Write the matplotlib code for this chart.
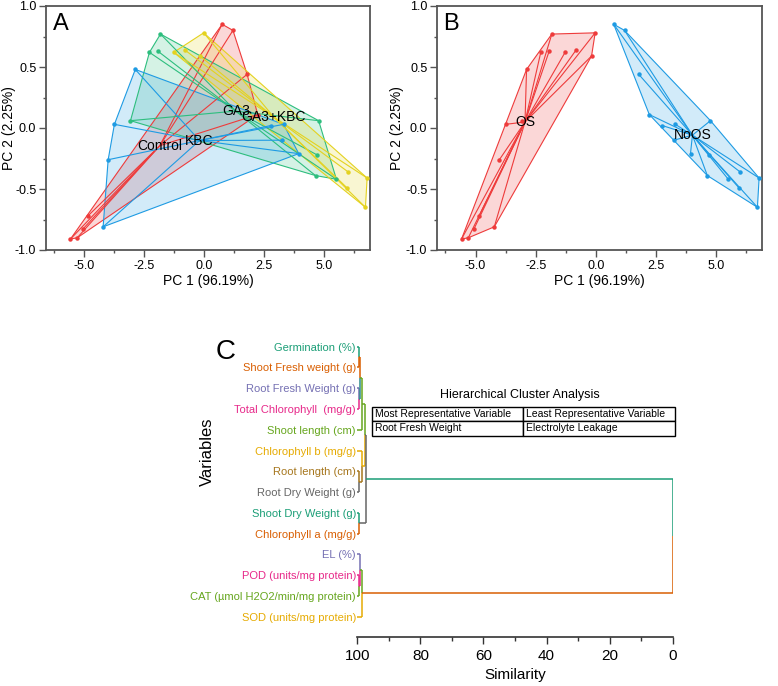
import numpy as np
import matplotlib
matplotlib.use("Agg")
import matplotlib.pyplot as plt
from matplotlib.patches import Polygon
from matplotlib.ticker import MultipleLocator, FormatStrFormatter

plt.rcParams['font.family'] = ['Liberation Sans', 'DejaVu Sans']

# ---------------- PCA data ----------------
groups = ["Control", "KBC", "GA3", "GA3+KBC"]
control_x = [0.74, 1.19, 1.78, 2.22, -4.85, -5.07, -5.58, -5.30]
control_y = [0.85, 0.80, 0.44, 0.11, -0.72, -0.83, -0.91, -0.90]
kbc_x = [3.30, 3.24, 3.93, 2.76, -2.88, -3.75, -4.01, -4.22]
kbc_y = [0.03, -0.10, -0.21, 0.02, 0.48, 0.03, -0.26, -0.81]
ga3_x = [4.76, 4.69, 4.63, 5.50, -1.83, -2.29, -1.94, -3.08]
ga3_y = [0.06, -0.22, -0.39, -0.42, 0.77, 0.62, 0.63, 0.06]
ga3kbc_x = [5.99, 5.94, 6.78, 6.71, -0.03, -0.82, -1.28, -0.18]
ga3kbc_y = [-0.36, -0.49, -0.41, -0.65, 0.78, 0.64, 0.62, 0.59]
stress = ["NoOS", "NoOS", "NoOS", "NoOS", "OS", "OS", "OS", "OS"]
stress_groups = ["OS", "NoOS"]

group_colors = {"Control": "#EE3B3B", "KBC": "#1E9BE3", "GA3": "#2DBE7E", "GA3+KBC": "#E4D21F"}
stress_colors = {"OS": "#EE3B3B", "NoOS": "#1E9BE3"}

# ---------------- Dendrogram data ----------------
variables = ["Germination (%)", "Shoot Fresh weight (g)", "Root Fresh Weight (g)",
             "Total Chlorophyll  (mg/g)", "Shoot length (cm)", "Chlorophyll b (mg/g)",
             "Root length (cm)", "Root Dry Weight (g)", "Shoot Dry Weight (g)",
             "Chlorophyll a (mg/g)", "EL (%)", "POD (units/mg protein)",
             "CAT (\u00b5mol H2O2/min/mg protein)", "SOD (units/mg protein)"]
merge_left = [0, 2, 14, 16, 6, 5, 17, 8, 20, 11, 10, 24, 22]
merge_right = [1, 3, 15, 4, 7, 18, 19, 9, 21, 12, 23, 13, 25]
merge_sim = [99.4, 99.6, 99.1, 98.4, 99.5, 98.6, 97.6, 99.6, 97.2, 99.5, 99.2, 98.6, 0.0]

dark2 = ["#1B9E77", "#D95F02", "#7570B3", "#E7298A", "#66A61E", "#E6AB02", "#A6761D", "#666666"]
leaf_colors = [dark2[i % 8] for i in range(len(variables))]
node_colors = ["#D95F02", "#2E8B8B", "#66A61E", "#66A61E", "#A6761D", "#E6AB02",
               "#666666", "#666666", "#1B9E77", "#E7298A", "#66A61E", "#D95F02", "#1B9E77"]

# ---------------- helpers ----------------
def convex_hull(pts):
    pts = sorted(set(map(tuple, pts)))
    if len(pts) < 3:
        return pts
    def cross(o, a, b):
        return (a[0]-o[0])*(b[1]-o[1]) - (a[1]-o[1])*(b[0]-o[0])
    lower, upper = [], []
    for p in pts:
        while len(lower) >= 2 and cross(lower[-2], lower[-1], p) <= 0:
            lower.pop()
        lower.append(p)
    for p in reversed(pts):
        while len(upper) >= 2 and cross(upper[-2], upper[-1], p) <= 0:
            upper.pop()
        upper.append(p)
    return lower[:-1] + upper[:-1]

def spider(ax, xs, ys, color, label):
    xs = np.asarray(xs); ys = np.asarray(ys)
    cx, cy = xs.mean(), ys.mean()
    hull = convex_hull(np.column_stack([xs, ys]))
    ax.add_patch(Polygon(hull, closed=True, facecolor=color, alpha=0.2, edgecolor='none', zorder=1))
    ax.add_patch(Polygon(hull, closed=True, facecolor='none', edgecolor=color, lw=0.8, zorder=2))
    for x, y in zip(xs, ys):
        ax.plot([cx, x], [cy, y], color=color, lw=0.8, zorder=3)
    ax.plot(xs, ys, 'o', color=color, ms=2.2, zorder=4)
    ax.text(cx, cy, label, ha='center', va='center', fontsize=10, zorder=6)

W, H = 778, 686

def style_pca(ax, left_px, ylab_px):
    ax.set_xlim(-6.6, 6.9)
    ax.set_ylim(-1.0, 1.0)
    ax.xaxis.set_major_locator(MultipleLocator(2.5))
    ax.xaxis.set_minor_locator(MultipleLocator(1.25))
    ax.yaxis.set_major_locator(MultipleLocator(0.5))
    ax.yaxis.set_minor_locator(MultipleLocator(0.25))
    ax.xaxis.set_major_formatter(FormatStrFormatter('%.1f'))
    ax.yaxis.set_major_formatter(FormatStrFormatter('%.1f'))
    for s in ax.spines.values():
        s.set_color('#555555'); s.set_linewidth(1.3)
    ax.tick_params(which='major', direction='out', length=5, width=1, color='#555555',
                   labelsize=9, pad=2)
    ax.tick_params(which='minor', direction='out', length=2.5, width=1, color='#555555')
    ax.set_xlabel("PC 1 (96.19%)", fontsize=10, labelpad=2)
    ax.set_ylabel("PC 2 (2.25%)", fontsize=10)
    width_px = ax.get_position().width * W
    ax.yaxis.set_label_coords((ylab_px - left_px) / width_px, 0.5)

fig = plt.figure(figsize=(7.78, 6.86), dpi=100)
def rect(l, r, t, b):
    return [l/W, 1-b/H, (r-l)/W, (b-t)/H]

axA = fig.add_axes(rect(46, 370, 6, 250))
axB = fig.add_axes(rect(437, 762, 6, 250))

group_data = {"Control": (control_x, control_y), "KBC": (kbc_x, kbc_y),
              "GA3": (ga3_x, ga3_y), "GA3+KBC": (ga3kbc_x, ga3kbc_y)}
for g in ["Control", "GA3", "GA3+KBC", "KBC"]:
    xs, ys = group_data[g]
    spider(axA, xs, ys, group_colors[g], g)
style_pca(axA, 46, 16)
axA.text(0.02, 0.97, "A", transform=axA.transAxes, fontsize=17, ha='left', va='top')

all_x = np.concatenate([group_data[g][0] for g in groups])
all_y = np.concatenate([group_data[g][1] for g in groups])
all_s = np.array(stress * len(groups))
for sg in stress_groups:
    m = all_s == sg
    spider(axB, all_x[m], all_y[m], stress_colors[sg], sg)
style_pca(axB, 437, 404)
axB.text(0.02, 0.97, "B", transform=axB.transAxes, fontsize=17, ha='left', va='top')

# ---------------- Dendrogram ----------------
axC = fig.add_axes(rect(357.3, 672.7, 326.7, 636.7))
n = len(variables)
pos_y = {i: float(i) for i in range(n)}
pos_x = {i: 100.0 for i in range(n)}
parent = {}
for k, (a, b, s) in enumerate(zip(merge_left, merge_right, merge_sim)):
    nid = n + k
    pos_y[nid] = (pos_y[a] + pos_y[b]) / 2
    pos_x[nid] = s
    parent[a] = nid
    parent[b] = nid
for node, p in parent.items():
    col = leaf_colors[node] if node < n else node_colors[node - n]
    axC.plot([pos_x[node], pos_x[p]], [pos_y[node], pos_y[node]], color=col, lw=1.1, solid_capstyle='butt')
    axC.plot([pos_x[p], pos_x[p]], [pos_y[node], pos_y[p]], color=col, lw=1.1, solid_capstyle='butt')

axC.set_xlim(100, 0)
axC.set_ylim(n - 1 + 0.96, -0.96)
axC.set_yticks(range(n))
axC.set_yticklabels(variables, fontsize=8)
for lbl, c in zip(axC.get_yticklabels(), leaf_colors):
    lbl.set_color(c)
axC.tick_params(axis='y', length=0, pad=1)
axC.xaxis.set_major_locator(MultipleLocator(20))
axC.xaxis.set_minor_locator(MultipleLocator(10))
axC.tick_params(axis='x', which='major', direction='out', length=5, width=1, labelsize=11, color='#333333')
axC.tick_params(axis='x', which='minor', direction='out', length=3, width=1, color='#333333')
for s in ['top', 'right', 'left']:
    axC.spines[s].set_visible(False)
axC.spines['bottom'].set_color('#333333')
axC.spines['bottom'].set_linewidth(1.2)
axC.set_xlabel("Similarity", fontsize=11, labelpad=4)
fig.text(207/W, 1-452/H, "Variables", rotation=90, fontsize=12, ha='center', va='center')
fig.text(226/W, 1-352/H, "C", fontsize=20, ha='center', va='center')

fig.text(520/W, 1-395/H, "Hierarchical Cluster Analysis", fontsize=9, ha='center', va='center')
tbl = axC.table(cellText=[["Most Representative Variable", "Least Representative Variable"],
                          ["Root Fresh Weight", "Electrolyte Leakage"]],
                cellLoc='left', bbox=[0.0457, 0.6487, 0.9616, 0.0932])
tbl.auto_set_font_size(False)
tbl.set_fontsize(7.5)
for (r, c), cell in tbl.get_celld().items():
    cell.set_linewidth(1.0)
    cell.PAD = 0.02

fig.savefig("out.png", dpi=100)
